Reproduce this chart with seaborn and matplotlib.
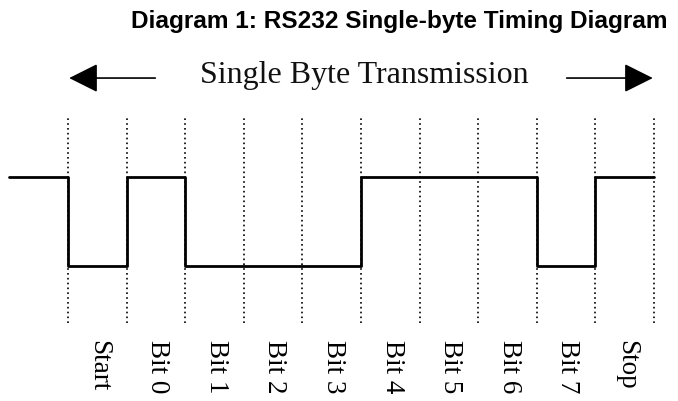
import matplotlib
matplotlib.use("Agg")
import matplotlib.pyplot as plt
import seaborn as sns
import pandas as pd

# ---- data ----
slot_labels = ["Start", "Bit 0", "Bit 1", "Bit 2", "Bit 3",
               "Bit 4", "Bit 5", "Bit 6", "Bit 7", "Stop"]
idle_level = 1
slot_levels = [0, 1, 0, 0, 0, 1, 1, 1, 0, 1]
title_text = "Diagram 1: RS232 Single-byte Timing Diagram"
span_text = "Single Byte Transmission"

# ---- build step signal (idle period before the frame) ----
n = len(slot_labels)
xs = [-1] + list(range(n)) + [n]
ys = [idle_level] + slot_levels + [slot_levels[-1]]
df = pd.DataFrame({"t": xs, "level": ys})

sns.set_theme(style="white")
plt.rcParams["font.family"] = ["Liberation Serif", "DejaVu Serif"]

fig = plt.figure(figsize=(6.78, 4.01), dpi=100)
ax = fig.add_axes([0, 0, 1, 1])

sns.lineplot(data=df, x="t", y="level", drawstyle="steps-post",
             estimator=None, sort=False, color="black", linewidth=2, ax=ax)

# bit boundaries (dotted)
ax.vlines(range(n + 1), -0.64, 1.674, colors="black",
          linestyles=(0, (1, 1.9)), linewidth=1.2)

# slot labels
for i, lab in enumerate(slot_labels):
    ax.text(i + 0.53, -0.83, lab, rotation=270, ha="center", va="top",
            fontsize=19.5, family=["Liberation Serif"], color="black")

# span text and arrows
ax.text(n / 2 + 0.05, 2.056, span_text, ha="center", va="baseline",
        fontsize=23, family=["Liberation Serif"], color="#111111")
arrow_kw = dict(arrowstyle="-|>,head_length=0.4,head_width=0.2",
                mutation_scale=45, lw=1.2, color="black",
                shrinkA=0, shrinkB=0)
ax.annotate("", xy=(0.02, 2.112), xytext=(1.49, 2.112), arrowprops=arrow_kw)
ax.annotate("", xy=(n - 0.02, 2.112), xytext=(n - 1.49, 2.112), arrowprops=arrow_kw)

# title
ax.text(5.65, 2.674, title_text, ha="center", va="baseline",
        fontsize=17.6, fontweight="bold", family=["Liberation Sans"], color="black")

ax.set_xlim(-1.1604, 10.4096)
ax.set_ylim(-1.517, 2.989)
ax.axis("off")

fig.savefig("out.png", dpi=100)
